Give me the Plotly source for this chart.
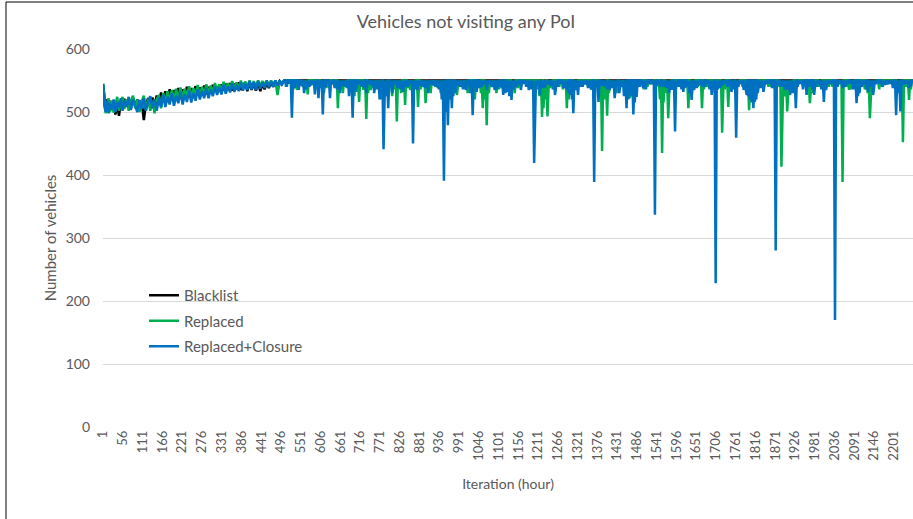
import plotly.graph_objects as go

# ---------------- data ----------------
TITLE = "Vehicles not visiting any PoI"
X_TITLE = "Iteration (hour)"
Y_TITLE = "Number of vehicles"
SERIES_NAMES = ["Blacklist", "Replaced", "Replaced+Closure"]

X_TICK_VALUES = [1, 56, 111, 166, 221, 276, 331, 386, 441, 496, 551, 606, 661, 716,
                 771, 826, 881, 936, 991, 1046, 1101, 1156, 1211, 1266, 1321, 1376,
                 1431, 1486, 1541, 1596, 1651, 1706, 1761, 1816, 1871, 1926, 1981,
                 2036, 2091, 2146, 2201]
X_TICK_LABELS = ["1", "56", "111", "166", "221", "276", "331", "386", "441", "496",
                 "551", "606", "661", "716", "771", "826", "881", "936", "991", "1046",
                 "1101", "1156", "1211", "1266", "1321", "1376", "1431", "1486", "1541",
                 "1596", "1651", "1706", "1761", "1816", "1871", "1926", "1981", "2036",
                 "2091", "2146", "2201"]
Y_TICK_VALUES = [0, 100, 200, 300, 400, 500, 600]

LAST_ITERATION = 2254
PLATEAU = 550  # level the series sit at between dips

# early, noisy warm-up phase (iterations 1..504)
EARLY_ITER = [1, 4, 8, 12, 16, 20, 25, 30, 35, 40, 45, 50, 55, 60, 66, 72, 78, 84, 90,
              96, 102, 108, 114, 120, 126, 132, 138, 144, 150, 156, 162, 168, 174, 180,
              186, 192, 198, 204, 210, 216, 222, 228, 234, 240, 246, 252, 258, 264, 270,
              276, 282, 288, 294, 300, 306, 312, 318, 324, 330, 336, 342, 348, 354, 360,
              366, 372, 378, 384, 390, 396, 402, 408, 414, 420, 426, 432, 438, 444, 450,
              456, 462, 468, 474, 480, 486, 492, 498, 504]

BLACKLIST_EARLY = [543, 520, 505, 520, 506, 518, 503, 515, 496, 512,
                   494, 516, 506, 521, 510, 519, 506, 522, 510, 520,
                   506, 518, 487, 512, 522, 508, 523, 510, 526, 512,
                   531, 515, 533, 518, 536, 520, 535, 522, 538, 523,
                   536, 525, 540, 524, 538, 527, 541, 526, 539, 529,
                   542, 528, 540, 531, 543, 532, 541, 533, 544, 534,
                   545, 535, 546, 534, 545, 536, 547, 535, 544, 546,
                   533, 546, 535, 545, 534, 547, 533, 544, 536, 546,
                   538, 547, 540, 548, 542, 549, 544, 550]

REPLACED_EARLY = [544, 516, 498, 508, 522, 500, 518, 499, 512, 524,
                  502, 516, 524, 505, 520, 502, 518, 526, 506, 520,
                  500, 516, 526, 504, 521, 502, 518, 498, 520, 527,
                  506, 530, 514, 533, 516, 535, 518, 537, 520, 539,
                  522, 537, 524, 541, 523, 538, 526, 543, 525, 540,
                  528, 544, 529, 542, 531, 546, 532, 544, 533, 548,
                  534, 546, 535, 549, 536, 547, 537, 550, 538, 548,
                  539, 550, 540, 549, 541, 550, 542, 549, 543, 550,
                  542, 550, 544, 550, 527, 549, 545, 550]

CLOSURE_EARLY = [545, 510, 500, 518, 498, 514, 504, 520, 500, 516,
                 506, 522, 502, 518, 508, 524, 503, 520, 510, 500,
                 519, 505, 522, 502, 517, 525, 506, 520, 502, 523,
                 508, 527, 508, 524, 512, 530, 510, 526, 514, 532,
                 512, 528, 516, 534, 515, 530, 518, 536, 520, 533,
                 522, 538, 522, 536, 525, 540, 527, 539, 528, 543,
                 529, 541, 531, 545, 532, 543, 533, 547, 534, 545,
                 535, 549, 536, 548, 535, 549, 537, 547, 538, 550,
                 539, 549, 540, 550, 542, 550, 543, 550]

# dips below the plateau after the warm-up (iteration, value)
BLACKLIST_DIP_ITER = [530, 560, 600, 640, 700, 780, 900, 1100, 1400, 1700, 2000]
BLACKLIST_DIP_VAL = [540, 542, 538, 545, 540, 545, 545, 545, 545, 545, 545]

REPLACED_DIP_ITER = [520, 540, 556, 570, 590, 615, 630, 654, 668, 680, 713, 725, 733, 745,
                     760, 775, 790, 805, 818, 830, 841, 855, 868, 877, 890, 898, 912, 925,
                     940, 955, 985, 1000, 1015, 1035, 1046, 1057, 1068, 1080, 1095, 1110,
                     1130, 1155, 1175, 1200, 1222, 1226, 1237, 1250, 1270, 1291, 1305,
                     1320, 1340, 1360, 1389, 1403, 1415, 1430, 1445, 1466, 1480, 1495,
                     1515, 1530, 1556, 1565, 1573, 1590, 1610, 1629, 1645, 1667, 1680,
                     1700, 1723, 1740, 1755, 1770, 1798, 1812, 1830, 1860, 1888, 1904,
                     1920, 1945, 1967, 1985, 2000, 2020, 2045, 2058, 2076, 2090, 2110,
                     2134, 2150, 2170, 2190, 2210, 2226, 2243]
REPLACED_DIP_VAL = [545, 535, 540, 528, 540, 530, 545, 506, 530, 540, 516, 535, 489, 535,
                    540, 520, 535, 525, 485, 530, 511, 535, 540, 508, 540, 514, 530, 540,
                    530, 535, 527, 540, 530, 520, 540, 506, 479, 540, 530, 540,
                    535, 538, 545, 535, 492, 506, 493, 540, 540, 506, 530,
                    540, 545, 535, 438, 494, 540, 530, 545, 522, 530, 545,
                    540, 545, 435, 530, 490, 540, 545, 506, 540, 506, 540,
                    545, 467, 508, 540, 545, 503, 540, 545, 540, 413, 501,
                    540, 545, 514, 540, 545, 540, 545, 389, 535, 545, 540,
                    490, 545, 540, 545, 540, 452, 519]
# shallower dips that thicken the band near the plateau
REPLACED_SMALL_ITER = [512, 530, 548, 563, 580, 600, 608, 622, 640, 660, 674, 690, 700,
                       720, 738, 752, 768, 782, 797, 812, 824, 848, 862, 884, 905, 918,
                       932, 947, 962, 970, 978, 993, 1008, 1025, 1040, 1052, 1062, 1074,
                       1088, 1102, 1118, 1138, 1146, 1165, 1188, 1210, 1215, 1232, 1244,
                       1260, 1280, 1296, 1312, 1330, 1350, 1370, 1382, 1395, 1408, 1422,
                       1438, 1452, 1460, 1472, 1488, 1505, 1522, 1540, 1550, 1560, 1580,
                       1600, 1620, 1637, 1655, 1672, 1690, 1710, 1730, 1747, 1762, 1780,
                       1790, 1805, 1820, 1840, 1852, 1870, 1880, 1896, 1912, 1930, 1955,
                       1975, 1993, 2010, 2030, 2052, 2068, 2082, 2100, 2120, 2128, 2142,
                       2160, 2180, 2200, 2218, 2235, 2248]
REPLACED_SMALL_VAL = [540, 536, 544, 538, 542, 536, 540, 538, 544, 536, 540, 532, 525,
                      540, 530, 538, 544, 530, 540, 536, 540, 538, 544, 536, 540, 544,
                      538, 540, 530, 525, 536, 540, 544, 536, 540, 530, 520, 530,
                      540, 536, 544, 540, 530, 544, 540, 536, 525, 520, 538,
                      540, 536, 520, 536, 544, 540, 544, 536, 520, 530, 540,
                      536, 540, 530, 525, 540, 536, 544, 540, 520, 515, 538,
                      544, 540, 530, 540, 536, 544, 540, 536, 540, 536, 540,
                      530, 520, 536, 544, 540, 536, 540, 525, 536, 540, 544,
                      530, 540, 536, 540, 544, 540, 536, 540, 536, 530, 540,
                      536, 544, 540, 536, 540, 536]

CLOSURE_DIP_ITER = [526, 545, 560, 575, 590, 600, 612, 632, 645, 660, 672, 685, 695, 705,
                    720, 740, 755, 770, 781, 788, 794, 805, 820, 835, 850, 863, 875, 890,
                    905, 920, 935, 943, 949, 955, 960, 971, 980, 995, 1010, 1029, 1040,
                    1055, 1075, 1090, 1105, 1114, 1125, 1137, 1150, 1170, 1185, 1200,
                    1216, 1230, 1245, 1258, 1275, 1290, 1300, 1309, 1322, 1335, 1350,
                    1367, 1379, 1395, 1410, 1424, 1444, 1457, 1466, 1476, 1485, 1503,
                    1520, 1536, 1546, 1560, 1575, 1592, 1605, 1615, 1625, 1638, 1652,
                    1669, 1680, 1694, 1705, 1717, 1730, 1749, 1762, 1775, 1791, 1800,
                    1810, 1814, 1822, 1838, 1855, 1872, 1885, 1898, 1912, 1928, 1940,
                    1958, 1970, 1979, 1992, 2006, 2020, 2037, 2050, 2065, 2082, 2097,
                    2105, 2118, 2129, 2143, 2160, 2176, 2190, 2207, 2219, 2235, 2248]
CLOSURE_DIP_VAL = [491, 535, 530, 540, 528, 522, 496, 522, 538, 530, 540, 525, 491, 532,
                   540, 545, 530, 520, 441, 525, 506, 530, 538, 532, 540, 450, 535, 540,
                   530, 542, 536, 520, 391, 500, 479, 506, 530, 540, 535, 495, 532,
                   540, 545, 535, 540, 527, 532, 519, 540, 545, 535, 419,
                   527, 538, 542, 527, 545, 535, 527, 498, 527, 540, 538,
                   389, 516, 540, 535, 522, 540, 506, 530, 496, 524, 538,
                   545, 337, 543, 540, 530, 469, 540, 532, 540, 519, 538,
                   540, 545, 527, 228, 538, 545, 532, 459, 545, 527, 520,
                   506, 516, 530, 532, 545, 280, 540, 535, 527, 506, 545,
                   527, 540, 527, 545, 516, 545, 170, 545, 540, 545, 514,
                   530, 545, 532, 527, 545, 543, 545, 495, 501, 545, 540]
CLOSURE_SMALL_ITER = [510, 517, 535, 552, 567, 582, 606, 620, 638, 652, 666, 679, 690, 712,
                      728, 733, 748, 762, 776, 798, 812, 827, 842, 857, 869, 882, 897, 912,
                      927, 965, 975, 988, 1002, 1018, 1022, 1048, 1062, 1068, 1082, 1097,
                      1110, 1120, 1131, 1143, 1158, 1163, 1178, 1193, 1208, 1223, 1237,
                      1252, 1266, 1282, 1296, 1305, 1315, 1328, 1342, 1358, 1373, 1387,
                      1402, 1417, 1432, 1437, 1450, 1462, 1471, 1480, 1494, 1511, 1528,
                      1552, 1568, 1583, 1598, 1610, 1620, 1632, 1645, 1660, 1675, 1688,
                      1700, 1711, 1724, 1738, 1755, 1768, 1783, 1795, 1805, 1818, 1830,
                      1846, 1862, 1878, 1892, 1905, 1920, 1933, 1948, 1963, 1974, 1986,
                      1999, 2012, 2028, 2044, 2058, 2073, 2088, 2101, 2112, 2124, 2136,
                      2151, 2168, 2183, 2198, 2213, 2228, 2242]
CLOSURE_SMALL_VAL = [540, 545, 538, 542, 536, 544, 538, 540, 544, 536, 542, 538, 535, 544,
                     538, 530, 542, 536, 530, 540, 544, 536, 540, 545, 536, 542, 538, 544,
                     540, 520, 525, 542, 536, 544, 530, 538, 544, 535, 540, 536,
                     538, 530, 525, 536, 544, 535, 540, 536, 542, 538, 544,
                     536, 540, 538, 530, 520, 535, 540, 544, 536, 540, 542,
                     536, 538, 544, 530, 525, 520, 525, 515, 540, 536, 544,
                     540, 538, 535, 540, 536, 538, 530, 535, 542, 540, 536,
                     540, 536, 542, 540, 536, 540, 535, 525, 515, 520, 538,
                     544, 538, 542, 540, 536, 530, 540, 536, 540, 536, 540,
                     536, 535, 544, 540, 538, 544, 536, 525, 540, 536, 540,
                     544, 540, 544, 538, 530, 544, 538]

COLORS = ["#000000", "#00B050", "#0070C0"]


def build_series(early_x, early_y, dip_groups):
    dips = []
    for dx, dy in dip_groups:
        dips += list(zip(dx, dy))
    dips.sort()
    xs = list(early_x)
    ys = list(early_y)
    for i, v in dips:
        xs += [i - 3, i, i + 3]
        ys += [PLATEAU, v, PLATEAU]
    xs.append(LAST_ITERATION)
    ys.append(PLATEAU)
    return xs, ys


series = [
    build_series(EARLY_ITER, BLACKLIST_EARLY, [(BLACKLIST_DIP_ITER, BLACKLIST_DIP_VAL)]),
    build_series(EARLY_ITER, REPLACED_EARLY, [(REPLACED_DIP_ITER, REPLACED_DIP_VAL),
                                              (REPLACED_SMALL_ITER, REPLACED_SMALL_VAL)]),
    build_series(EARLY_ITER, CLOSURE_EARLY, [(CLOSURE_DIP_ITER, CLOSURE_DIP_VAL),
                                             (CLOSURE_SMALL_ITER, CLOSURE_SMALL_VAL)]),
]

FONT = "Lato, 'Open Sans', sans-serif"
GREY = "#595959"

fig = go.Figure()
for k, (xs, ys) in enumerate(series):
    fig.add_trace(go.Scatter(
        x=xs, y=ys, mode="lines", name=SERIES_NAMES[k],
        legendgroup=SERIES_NAMES[k],
        line=dict(color=COLORS[k], width=2.5),
    ))

W, H = 913, 519
L, R, T, B = 103, 0, 49, 92
PW = W - L - R
PH = H - T - B

fig.update_layout(
    width=W, height=H,
    margin=dict(l=L, r=R, t=T, b=B, autoexpand=False),
    paper_bgcolor="white", plot_bgcolor="white",
    font=dict(family=FONT, color=GREY),
    hovermode=False,
    title=dict(text=TITLE, x=466 / W, xref="container", xanchor="center",
               y=1 - 22 / H, yref="container", yanchor="middle",
               font=dict(size=18, color=GREY, family=FONT)),
    showlegend=True,
    legend=dict(x=(144 - L) / PW, xanchor="left",
                y=(427 - 279) / PH, yanchor="top",
                bgcolor="rgba(0,0,0,0)", font=dict(size=15, color=GREY, family=FONT),
                itemwidth=30, tracegroupgap=3, traceorder="grouped"),
    xaxis=dict(range=[0.5, LAST_ITERATION], tickmode="array", automargin=False,
               tickvals=X_TICK_VALUES, ticktext=X_TICK_LABELS, tickangle=-90,
               showgrid=False, zeroline=False, showline=False, ticks="",
               tickfont=dict(size=13, color=GREY, family=FONT),
               title=dict(text=X_TITLE, font=dict(size=14, color=GREY, family=FONT),
                          standoff=19)),
    yaxis=dict(range=[0, 600], tickmode="array", tickvals=Y_TICK_VALUES, automargin=False,
               showgrid=True, gridcolor="#D9D9D9", gridwidth=1, zeroline=False,
               showline=False, ticks="", ticklabelstandoff=12,
               tickfont=dict(size=14, color=GREY, family=FONT),
               title=dict(text=Y_TITLE, font=dict(size=15, color=GREY, family=FONT),
                          standoff=5)),
    shapes=[dict(type="rect", xref="paper", yref="paper",
                 x0=(6 - L) / PW, x1=(W + 20 - L) / PW,
                 y0=(427 - (H + 20)) / PH, y1=(427 - 2) / PH,
                 line=dict(color="#000000", width=1), fillcolor="rgba(0,0,0,0)",
                 layer="below")],
)

# the page's default body margin would shift the figure by 8px; remove it
fig.write_html("out.html", config={"displayModeBar": False},
               post_script="document.body.style.margin='0';document.body.style.overflow='hidden';")
